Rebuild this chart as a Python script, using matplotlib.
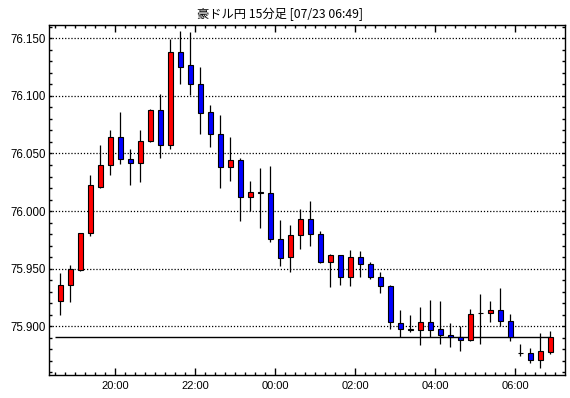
import matplotlib
matplotlib.use("Agg")
import matplotlib.pyplot as plt
import numpy as np

# ------------------------------------------------------------
# 豪ドル円 15分足 (18:30 - 06:45)
# ------------------------------------------------------------
title = "豪ドル円 15分足 [07/23 06:49]"
start_min = 18 * 60 + 30          # 最初の足の開始時刻
step_min = 15

opens = [75.922, 75.936, 75.949, 75.981, 76.021, 76.040, 76.064, 76.045, 76.042, 76.061,
         76.088, 76.057, 76.138, 76.127, 76.110, 76.086, 76.067, 76.038, 76.044, 76.012,
         76.017, 76.0155, 75.976, 75.960, 75.979, 75.993, 75.980, 75.956, 75.962, 75.9425,
         75.960, 75.954, 75.9425, 75.935, 75.9026, 75.8974, 75.8966, 75.9035, 75.8974, 75.8922,
         75.8905, 75.888, 75.9113, 75.9113, 75.914, 75.905, 75.8766, 75.8766, 75.8705, 75.8774]
highs = [75.946, 75.953, 75.981, 76.031, 76.057, 76.070, 76.086, 76.054, 76.070, 76.089,
         76.102, 76.149, 76.156, 76.155, 76.125, 76.092, 76.083, 76.064, 76.046, 76.026,
         76.037, 76.039, 75.992, 75.988, 76.002, 76.009, 75.983, 75.963, 75.962, 75.966,
         75.965, 75.956, 75.947, 75.936, 75.914, 75.910, 75.9165, 75.923, 75.922, 75.9026,
         75.900, 75.915, 75.928, 75.922, 75.933, 75.911, 75.885, 75.881, 75.894, 75.8957]
lows = [75.910, 75.921, 75.948, 75.978, 76.020, 76.031, 76.041, 76.023, 76.025, 76.060,
        76.046, 76.054, 76.110, 76.101, 76.067, 76.056, 76.020, 76.026, 75.991, 76.000,
        75.985, 75.9735, 75.952, 75.947, 75.967, 75.970, 75.955, 75.934, 75.936, 75.935,
        75.943, 75.941, 75.929, 75.898, 75.8905, 75.8948, 75.8835, 75.8905, 75.8844, 75.8818,
        75.879, 75.887, 75.885, 75.904, 75.900, 75.887, 75.874, 75.868, 75.8635, 75.8757]
closes = [75.936, 75.950, 75.981, 76.023, 76.040, 76.064, 76.045, 76.042, 76.061, 76.088,
          76.057, 76.138, 76.125, 76.110, 76.085, 76.067, 76.038, 76.044, 76.012, 76.017,
          76.0155, 75.9755, 75.959, 75.979, 75.993, 75.980, 75.956, 75.962, 75.9425, 75.960,
          75.954, 75.9425, 75.935, 75.9035, 75.8974, 75.8966, 75.9035, 75.8965, 75.8922, 75.8905,
          75.888, 75.911, 75.9115, 75.914, 75.905, 75.8905, 75.8766, 75.8705, 75.8783, 75.8905]

tick_labels = ["20:00", "22:00", "00:00", "02:00", "04:00", "06:00"]
y_ticks = [75.900, 75.950, 76.000, 76.050, 76.100, 76.150]

# ------------------------------------------------------------
# 描画
# ------------------------------------------------------------
o = np.array(opens)
h = np.array(highs)
l = np.array(lows)
c = np.array(closes)
x = np.arange(len(o))

fig = plt.figure(figsize=(5.70, 3.98), dpi=100)
ax = fig.add_axes([49 / 570, 1 - 375 / 398, 516 / 570, 350 / 398])

colors = np.where(c >= o, "#FF0000", "#0000FF")

# 現在値ライン
ax.hlines(c[-1], -0.55, x[-1], color="black", lw=1.0, zorder=1)

# ヒゲ
ax.vlines(x, l, h, color="black", lw=0.9, zorder=2)
# 実体
ax.bar(x, np.abs(c - o), bottom=np.minimum(o, c), width=0.55,
       color=colors, edgecolor="black", linewidth=0.8, zorder=3)

# 軸
ax.set_xlim(-1.13, 50.47)
ax.set_ylim(75.8578, 76.1615)

def to_x(label):
    hh, mm = map(int, label.split(":"))
    m = hh * 60 + mm
    if m < start_min:
        m += 24 * 60
    return (m - start_min) / step_min - 0.5

ax.set_xticks([to_x(t) for t in tick_labels])
ax.set_xticklabels(tick_labels)
ax.set_xticks(np.arange(-0.5, 50.5, 1.0), minor=True)

ax.set_yticks(y_ticks)
ax.set_yticklabels([f"{v:.3f}" for v in y_ticks])
ax.set_yticks(np.arange(75.86, 76.161, 0.01), minor=True)

ax.tick_params(axis="x", which="major", direction="in", length=5, width=1,
               top=True, bottom=True, pad=4, labelsize=8)
ax.tick_params(axis="x", which="minor", direction="in", length=2.5, width=1,
               top=True, bottom=True)
ax.tick_params(axis="y", which="both", direction="in", length=2.5, width=1,
               left=True, right=True, pad=2, labelsize=8.3)
for lab in ax.get_xticklabels() + ax.get_yticklabels():
    lab.set_family("Liberation Sans")

ax.grid(axis="y", which="major", color="black", linestyle=(0, (1, 1.5)), lw=0.9)
ax.set_axisbelow(True)
for sp in ax.spines.values():
    sp.set_linewidth(1.0)

fig.text(280 / 570, 1 - 14 / 398, title, ha="center", va="center", fontsize=8.8,
         family=["Noto Sans CJK JP", "DejaVu Sans"])

plt.savefig("out.png", dpi=100)
plt.close()
